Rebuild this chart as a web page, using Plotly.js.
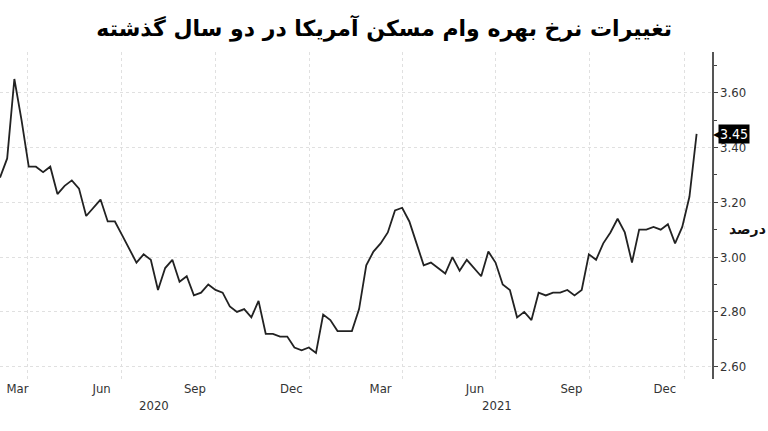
<!DOCTYPE html>
<html>
<head>
<meta charset="utf-8">
<script src="https://cdn.plot.ly/plotly-3.0.1.min.js"></script>
<style>
html,body{margin:0;padding:0;background:#fff;}
#chart{width:768px;height:431px;}
</style>
</head>
<body>
<div id="chart"></div>
<script>
// Weekly observation dates
const dates = [
 '2020-03-05','2020-03-12','2020-03-19','2020-03-26',
 '2020-04-02','2020-04-09','2020-04-16','2020-04-23','2020-04-30',
 '2020-05-07','2020-05-14','2020-05-21','2020-05-28',
 '2020-06-04','2020-06-11','2020-06-18','2020-06-25',
 '2020-07-02','2020-07-09','2020-07-16','2020-07-23','2020-07-30',
 '2020-08-06','2020-08-13','2020-08-20','2020-08-27',
 '2020-09-03','2020-09-10','2020-09-17','2020-09-24',
 '2020-10-01','2020-10-08','2020-10-15','2020-10-22','2020-10-29',
 '2020-11-05','2020-11-12','2020-11-19','2020-11-26',
 '2020-12-03','2020-12-10','2020-12-17','2020-12-24','2020-12-31',
 '2021-01-07','2021-01-14','2021-01-21','2021-01-28',
 '2021-02-04','2021-02-11','2021-02-18','2021-02-25',
 '2021-03-04','2021-03-11','2021-03-18','2021-03-25',
 '2021-04-01','2021-04-08','2021-04-15','2021-04-22','2021-04-29',
 '2021-05-06','2021-05-13','2021-05-20','2021-05-27',
 '2021-06-03','2021-06-10','2021-06-17','2021-06-24',
 '2021-07-01','2021-07-08','2021-07-15','2021-07-22','2021-07-29',
 '2021-08-05','2021-08-12','2021-08-19','2021-08-26',
 '2021-09-02','2021-09-09','2021-09-16','2021-09-23','2021-09-30',
 '2021-10-07','2021-10-14','2021-10-21','2021-10-28',
 '2021-11-04','2021-11-11','2021-11-18','2021-11-25',
 '2021-12-02','2021-12-09','2021-12-16','2021-12-23','2021-12-30',
 '2022-01-06','2022-01-13'
];
// Mortgage rate, percent
const rates = [
 3.29,3.36,3.65,3.50,
 3.33,3.33,3.31,3.33,3.23,
 3.26,3.28,3.25,3.15,
 3.18,3.21,3.13,3.13,
 3.08,3.03,2.98,3.01,2.99,
 2.88,2.96,2.99,2.91,
 2.93,2.86,2.87,2.90,
 2.88,2.87,2.82,2.80,2.81,
 2.78,2.84,2.72,2.72,
 2.71,2.71,2.67,2.66,2.67,
 2.65,2.79,2.77,2.73,
 2.73,2.73,2.81,2.97,
 3.02,3.05,3.09,3.17,
 3.18,3.13,3.05,2.97,2.98,
 2.96,2.94,3.00,2.95,
 2.99,2.96,2.93,3.02,
 2.98,2.90,2.88,2.78,2.80,
 2.77,2.87,2.86,2.87,
 2.87,2.88,2.86,2.88,3.01,
 2.99,3.05,3.09,3.14,
 3.09,2.98,3.10,3.10,
 3.11,3.10,3.12,3.05,3.11,
 3.22,3.45
];
// Axis labels
const monthTickDates = ['2020-03-22','2020-06-12','2020-09-11','2020-12-14','2021-03-11','2021-06-11','2021-09-13','2021-12-13'];
const monthTickText = ['Mar','Jun','Sep','Dec','Mar','Jun','Sep','Dec'];
const gridDates = ['2020-04-01','2020-07-01','2020-10-01','2021-01-01','2021-04-01','2021-07-01','2021-10-01','2022-01-01'];
const yearLabels = ['2020','2021'];
const yearLabelDates = ['2020-08-02','2021-07-02'];
const yTickVals = [2.6,2.8,3.0,3.2,3.4,3.6];
const yTickText = ['2.60','2.80','3.00','3.20','3.40','3.60'];
const titleText = 'تغییرات نرخ بهره وام مسکن آمریکا در دو سال گذشته';
const unitText = 'درصد';

const tickFont = {family:'DejaVu Sans Condensed, DejaVu Sans, sans-serif', size:13, color:'#333'};
const last = rates[rates.length-1];

const trace = {
  x: dates, y: rates, type:'scatter', mode:'lines',
  line:{color:'#222', width:1.8}, hoverinfo:'skip'
};

const annotations = yearLabels.map((t,i)=>({
  text:t, x:yearLabelDates[i], xref:'x', y:-0.08, yref:'paper',
  showarrow:false, font:tickFont, yanchor:'middle', xanchor:'center'
}));
annotations.push({
  text:'◀', x:1, xref:'paper', y:last, yref:'y',
  xanchor:'left', yanchor:'middle', xshift:-1, showarrow:false,
  font:{family:'DejaVu Sans, sans-serif', size:12, color:'#000'}
});
annotations.push({
  text: last.toFixed(2), x:1, xref:'paper', y:last, yref:'y',
  xanchor:'left', yanchor:'middle', xshift:6, showarrow:false,
  bgcolor:'#000', borderpad:1,
  font:{family:'DejaVu Sans Condensed, DejaVu Sans, sans-serif', size:14, color:'#fff'}
});
annotations.push({
  text:'<b>'+unitText+'</b>', x:1, xref:'paper', y:0.46, yref:'paper',
  xanchor:'left', yanchor:'middle', xshift:15, showarrow:false,
  font:{family:'DejaVu Sans, sans-serif', size:14, color:'#111'}
});

const layout = {
  width:768, height:431,
  margin:{l:0, r:56, t:52, b:52},
  paper_bgcolor:'#fff', plot_bgcolor:'#fff',
  showlegend:false,
  title:{
    text:'<b>'+titleText+'</b>',
    xref:'paper', x:672/712, xanchor:'right',
    yref:'container', y:1-28/431, yanchor:'middle',
    font:{family:'DejaVu Sans, sans-serif', size:22, color:'#000'}
  },
  xaxis:{
    type:'date', range:['2020-03-05','2022-01-28'],
    tickvals: monthTickDates, ticktext: monthTickText,
    showgrid:false, ticks:'', tickfont:tickFont, zeroline:false,
    showline:false, fixedrange:true,
    minor:{tickvals:gridDates, showgrid:true, gridcolor:'#e0e0e0', griddash:'dot', gridwidth:1, ticks:''}
  },
  yaxis:{
    side:'right', range:[2.555, 3.7485],
    tickvals:yTickVals, ticktext:yTickText,
    ticks:'outside', ticklen:4, tickwidth:1, tickcolor:'#444',
    showline:true, linecolor:'#555', linewidth:1.5,
    showgrid:true, gridcolor:'#e0e0e0', griddash:'dot', gridwidth:1,
    zeroline:false, tickfont:tickFont, fixedrange:true,
    minor:{dtick:0.1, tick0:2.5, ticks:'outside', ticklen:3, tickcolor:'#444', showgrid:false}
  },
  annotations: annotations
};

Plotly.newPlot('chart', [trace], layout, {displayModeBar:false, staticPlot:true});
</script>
</body>
</html>
